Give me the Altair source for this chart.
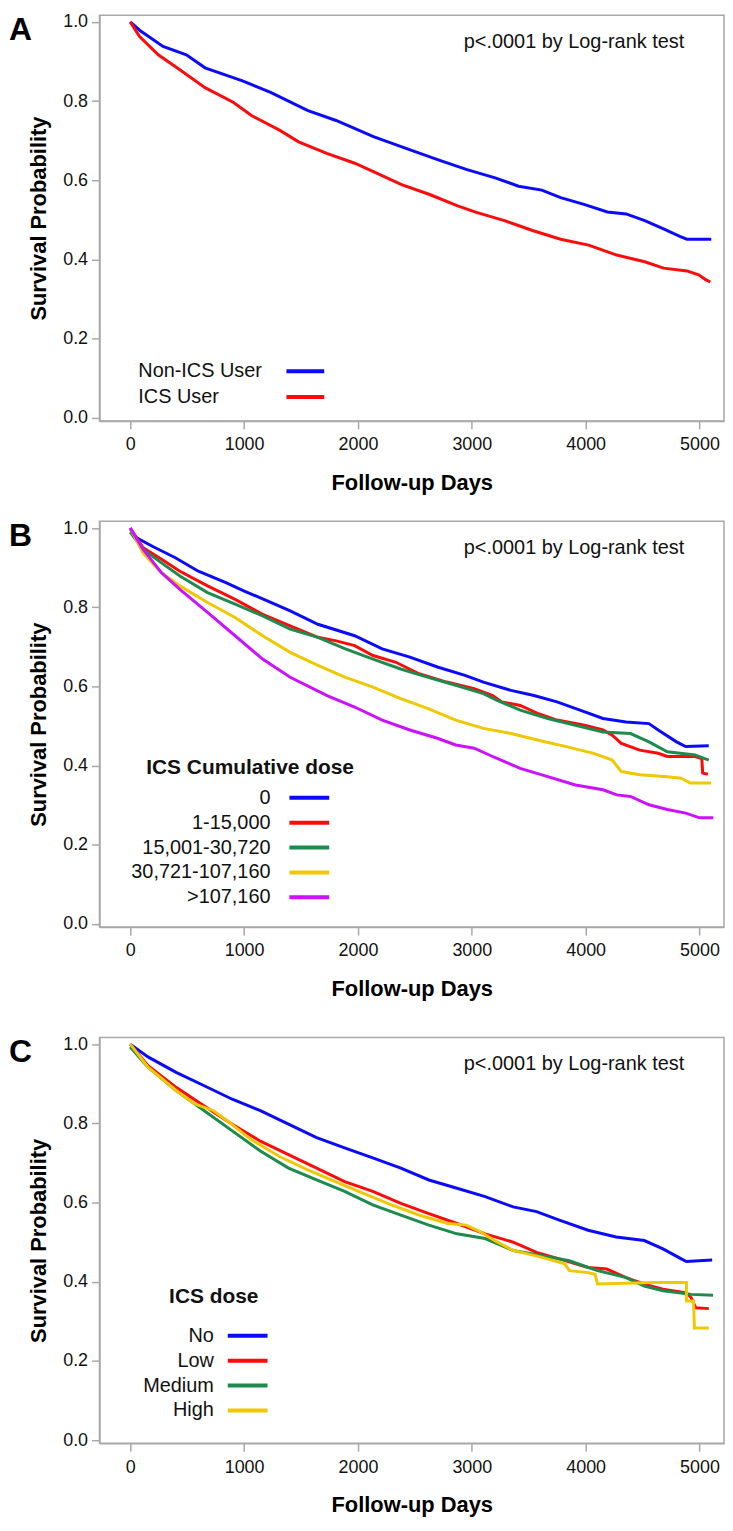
import altair as alt
import pandas as pd

FONT = "Liberation Sans"
GRAY = "#a8a8a8"

# ---------------- Panel A ----------------
A_groups = ["Non-ICS User", "ICS User"]
A_colors = ["#0a0aff", "#ff0a0a"]
A_non_day = [0, 82, 288, 493, 657, 986, 1233, 1561, 1808, 2136, 2465, 2712, 2958, 3205, 3410,
             3615, 3780, 3985, 4191, 4355, 4519, 4684, 4827, 4889, 5103]
A_non_surv = [1.0, 0.979, 0.938, 0.917, 0.884, 0.851, 0.822, 0.776, 0.751, 0.710, 0.676, 0.651,
              0.627, 0.606, 0.585, 0.575, 0.556, 0.539, 0.520, 0.515, 0.498, 0.477, 0.458, 0.451, 0.451]
A_ics_day = [0, 82, 246, 411, 657, 904, 1068, 1315, 1479, 1726, 1972, 2136, 2383, 2630, 2876, 3040,
             3287, 3533, 3780, 4026, 4273, 4519, 4684, 4889, 4992, 5053, 5095]
A_ics_surv = [1.0, 0.963, 0.917, 0.884, 0.834, 0.797, 0.763, 0.726, 0.697, 0.668, 0.643, 0.622, 0.589,
              0.564, 0.535, 0.519, 0.498, 0.473, 0.451, 0.436, 0.411, 0.394, 0.378, 0.371, 0.361, 0.349, 0.343]

# ---------------- Panel B ----------------
B_groups = ["0", "1-15,000", "15,001-30,720", "30,721-107,160", ">107,160"]
B_colors = ["#0a0aff", "#ff0a0a", "#1e8a4c", "#f0c800", "#cc11ff"]
B_g0_day = [0, 32, 194, 396, 598, 840, 1002, 1204, 1405, 1648, 1971, 2213, 2456, 2698, 2940, 3102,
            3344, 3546, 3748, 3950, 4152, 4354, 4556, 4637, 4798, 4879, 5081]
B_g0_surv = [1.0, 0.979, 0.954, 0.925, 0.891, 0.862, 0.841, 0.816, 0.791, 0.757, 0.728, 0.695, 0.674,
             0.649, 0.628, 0.611, 0.590, 0.577, 0.561, 0.540, 0.519, 0.510, 0.506, 0.490, 0.460, 0.448, 0.450]
B_g1_day = [0, 113, 275, 436, 679, 921, 1163, 1405, 1648, 1809, 1971, 2132, 2334, 2536, 2779, 3021,
            3183, 3263, 3425, 3586, 3748, 3990, 4152, 4233, 4313, 4475, 4637, 4717, 4960, 5020, 5028, 5073]
B_g1_surv = [1.0, 0.950, 0.921, 0.891, 0.854, 0.820, 0.782, 0.753, 0.724, 0.715, 0.703, 0.678, 0.661,
             0.632, 0.611, 0.594, 0.577, 0.561, 0.552, 0.531, 0.515, 0.502, 0.490, 0.477, 0.456, 0.439,
             0.431, 0.423, 0.423, 0.418, 0.381, 0.378]
B_g2_day = [0, 113, 275, 436, 679, 921, 1163, 1405, 1648, 1890, 2132, 2375, 2617, 2859, 3102, 3223,
            3425, 3667, 3910, 4152, 4394, 4556, 4717, 4960, 5081]
B_g2_surv = [0.99, 0.946, 0.912, 0.879, 0.837, 0.808, 0.778, 0.745, 0.724, 0.695, 0.669, 0.644, 0.623,
             0.603, 0.582, 0.565, 0.540, 0.519, 0.502, 0.485, 0.481, 0.460, 0.435, 0.427, 0.414]
B_g3_day = [0, 113, 275, 436, 679, 921, 1163, 1405, 1648, 1890, 2132, 2375, 2617, 2859, 3102, 3344,
            3586, 3829, 4071, 4233, 4313, 4475, 4717, 4838, 4919, 5101]
B_g3_surv = [1.0, 0.937, 0.887, 0.854, 0.812, 0.774, 0.728, 0.686, 0.653, 0.623, 0.598, 0.569, 0.544,
             0.515, 0.494, 0.481, 0.464, 0.448, 0.431, 0.414, 0.385, 0.377, 0.372, 0.368, 0.356, 0.356]
B_g4_day = [0, 113, 275, 436, 679, 921, 1163, 1405, 1729, 1971, 2213, 2456, 2698, 2859, 3021, 3183,
            3425, 3667, 3910, 4152, 4273, 4394, 4556, 4717, 4879, 5000, 5121]
B_g4_surv = [1.0, 0.946, 0.887, 0.845, 0.787, 0.728, 0.669, 0.623, 0.577, 0.548, 0.515, 0.490, 0.469,
             0.452, 0.444, 0.423, 0.393, 0.372, 0.351, 0.339, 0.326, 0.322, 0.301, 0.289, 0.280, 0.268, 0.268]

# ---------------- Panel C ----------------
C_groups = ["No", "Low", "Medium", "High"]
C_colors = ["#0a0aff", "#ff0a0a", "#1e8a4c", "#f0c800"]
C_no_day = [0, 156, 403, 650, 896, 1143, 1390, 1637, 1883, 2130, 2377, 2623, 2870, 3117, 3363, 3569,
            3775, 4021, 4268, 4515, 4679, 4844, 4885, 5111]
C_no_surv = [1.0, 0.968, 0.929, 0.895, 0.861, 0.832, 0.798, 0.764, 0.738, 0.713, 0.687, 0.657, 0.636,
             0.615, 0.589, 0.577, 0.555, 0.530, 0.513, 0.504, 0.483, 0.457, 0.451, 0.455]
C_low_day = [0, 156, 403, 650, 896, 1143, 1390, 1637, 1883, 2130, 2377, 2623, 2870, 3117, 3363, 3569,
             3775, 4021, 4186, 4350, 4515, 4679, 4885, 4926, 4967, 5082]
C_low_surv = [1.0, 0.946, 0.891, 0.844, 0.798, 0.755, 0.721, 0.687, 0.653, 0.628, 0.598, 0.572, 0.547,
              0.521, 0.500, 0.474, 0.457, 0.436, 0.432, 0.411, 0.394, 0.381, 0.372, 0.360, 0.334, 0.332]
C_med_day = [0, 156, 403, 650, 896, 1143, 1390, 1637, 1883, 2130, 2377, 2623, 2870, 3117, 3363, 3610,
             3857, 4104, 4350, 4515, 4679, 4926, 5119]
C_med_surv = [0.993, 0.942, 0.883, 0.832, 0.781, 0.730, 0.687, 0.657, 0.628, 0.594, 0.568, 0.543, 0.521,
              0.509, 0.479, 0.466, 0.453, 0.428, 0.411, 0.389, 0.377, 0.368, 0.366]
C_high_day = [0, 156, 403, 567, 732, 855, 1061, 1308, 1554, 1801, 2048, 2294, 2541, 2788, 2952, 3076,
              3199, 3363, 3610, 3816, 3857, 4021, 4083, 4104, 4597, 4885, 4885, 4947, 4955, 5082]
C_high_surv = [1.0, 0.942, 0.883, 0.849, 0.832, 0.806, 0.759, 0.717, 0.683, 0.653, 0.623, 0.594, 0.568,
               0.547, 0.543, 0.526, 0.504, 0.479, 0.462, 0.445, 0.428, 0.423, 0.419, 0.394, 0.398, 0.398,
               0.351, 0.351, 0.283, 0.283]

X_TICKS = [0, 1000, 2000, 3000, 4000, 5000]
Y_TICKS = [0.0, 0.2, 0.4, 0.6, 0.8, 1.0]
P_TEXT = "p<.0001 by Log-rank test"


def curves_df(groups, days, survs):
    rows = []
    for g, ds, ss in zip(groups, days, survs):
        for i, (d, s) in enumerate(zip(ds, ss)):
            rows.append({"group": g, "day": d, "surv": s, "idx": i})
    return pd.DataFrame(rows)


def panel(letter, groups, colors, days, survs, legend_title, leg):
    df = curves_df(groups, days, survs)
    color = alt.Color("group:N", scale=alt.Scale(domain=groups, range=colors), legend=None)
    x = alt.X("day:Q", scale=alt.Scale(domain=[-270, 5215], nice=False, zero=False),
              axis=alt.Axis(values=X_TICKS, format="d", title="Follow-up Days"))
    y = alt.Y("surv:Q", scale=alt.Scale(domain=[-0.008, 1.017], nice=False, zero=False),
              axis=alt.Axis(values=Y_TICKS, format=".1f", title="Survival Probability"))
    lines = alt.Chart(df).mark_line(strokeWidth=3, strokeJoin="miter").encode(
        x=x, y=y, color=color, detail="group:N", order="idx:Q")

    ldf = pd.DataFrame({"group": groups, "row": list(range(len(groups)))})
    base = alt.Chart(ldf).transform_calculate(
        ly=f"{leg['y0']} + datum.row * {leg['dy']}")
    rules = base.mark_rule(strokeWidth=4).encode(
        x=alt.value(leg["lx1"]), x2=alt.value(leg["lx2"]),
        y=alt.Y("ly:Q", scale=None), color=color)
    texts = base.mark_text(align=leg["align"], baseline="middle", fontSize=20, font=FONT,
                           color="#111111").encode(
        x=alt.value(leg["tx"]), y=alt.Y("ly:Q", scale=None), text="group:N")

    ptxt = alt.Chart(pd.DataFrame({"t": [P_TEXT]})).mark_text(
        align="right", baseline="middle", fontSize=20, font=FONT, color="#111111").encode(
        x=alt.value(588), y=alt.value(27), text="t:N")
    let = alt.Chart(pd.DataFrame({"t": [letter]})).mark_text(
        align="left", baseline="top", fontSize=32, fontWeight="bold", font=FONT, color="#000000").encode(
        x=alt.value(-91), y=alt.value(0), text="t:N")
    layers = [lines, rules, texts, ptxt, let]
    if legend_title:
        ttl = alt.Chart(pd.DataFrame({"t": [legend_title]})).mark_text(
            align="left", baseline="middle", fontSize=21, fontWeight="bold", font=FONT,
            color="#111111").encode(x=alt.value(leg["titx"]), y=alt.value(leg["tity"]), text="t:N")
        layers.append(ttl)
    return alt.layer(*layers).properties(width=628, height=408)


pA = panel("A", A_groups, A_colors, [A_non_day, A_ics_day], [A_non_surv, A_ics_surv], None,
           dict(y0=358, dy=26, lx1=188, lx2=226, tx=39, align="left"))
pB = panel("B", B_groups, B_colors, [B_g0_day, B_g1_day, B_g2_day, B_g3_day, B_g4_day],
           [B_g0_surv, B_g1_surv, B_g2_surv, B_g3_surv, B_g4_surv], "ICS Cumulative dose",
           dict(y0=278, dy=25, lx1=191, lx2=231, tx=172, align="right", titx=47, tity=248))
pC = panel("C", C_groups, C_colors, [C_no_day, C_low_day, C_med_day, C_high_day],
           [C_no_surv, C_low_surv, C_med_surv, C_high_surv], "ICS dose",
           dict(y0=300, dy=25, lx1=129, lx2=169, tx=115, align="right", titx=70, tity=261))

inner = alt.vconcat(pB, pC, spacing=34).resolve_scale(color="independent")
chart = alt.vconcat(pA, inner, spacing=24).resolve_scale(color="independent").properties(
    padding={"left": 0, "top": 0, "right": 0, "bottom": 0}
).configure_view(stroke=GRAY, strokeWidth=1.5).configure_axis(
    grid=False, domainColor=GRAY, domainWidth=1.5, tickColor=GRAY, tickWidth=1.5, tickSize=8,
    labelFont=FONT, labelFontSize=18, labelColor="#111111", labelPadding=4,
    titleFont=FONT, titleFontSize=22, titleFontWeight="bold", titleColor="#000000"
).configure_axisX(titlePadding=19, labelPadding=7).configure_axisY(titlePadding=12)

chart.save("out.html", embed_options={"renderer": "svg", "actions": False})
